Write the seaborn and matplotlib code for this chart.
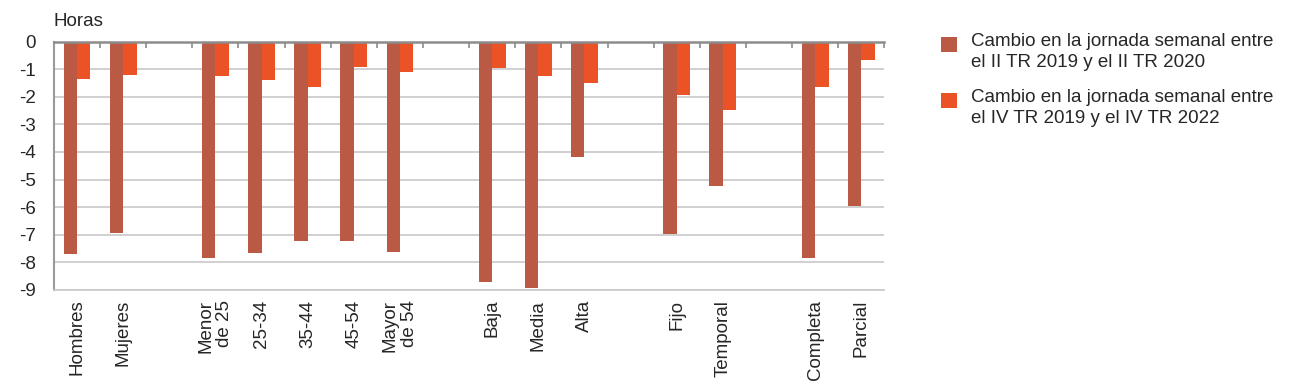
import numpy as np
import pandas as pd
import matplotlib
matplotlib.use("Agg")
import matplotlib.pyplot as plt
import matplotlib.ticker as ticker
from matplotlib.patches import Rectangle
import seaborn as sns

# Categories ("" entries are the empty gaps between groups)
categories = ["Hombres", "Mujeres", "",
              "Menor\nde 25", "25-34", "35-44", "45-54", "Mayor\nde 54", " ",
              "Baja", "Media", "Alta", "  ",
              "Fijo", "Temporal", "   ",
              "Completa", "Parcial"]
real_cats = ["Hombres", "Mujeres",
             "Menor\nde 25", "25-34", "35-44", "45-54", "Mayor\nde 54",
             "Baja", "Media", "Alta",
             "Fijo", "Temporal",
             "Completa", "Parcial"]

series_names = ["Cambio en la jornada semanal entre\nel II TR 2019 y el II TR 2020",
                "Cambio en la jornada semanal entre\nel IV TR 2019 y el IV TR 2022"]
change_2020 = [-7.7, -6.95, -7.85, -7.67, -7.21, -7.21, -7.61,
               -8.72, -8.93, -4.17, -6.99, -5.24, -7.86, -5.96]
change_2022 = [-1.36, -1.2, -1.25, -1.39, -1.66, -0.92, -1.1,
               -0.97, -1.25, -1.5, -1.93, -2.47, -1.63, -0.65]

yticks = [0, -1, -2, -3, -4, -5, -6, -7, -8, -9]

colors = ["#BA5944", "#EB5327"]

df = pd.DataFrame({
    "cat": real_cats * 2,
    "serie": [series_names[0]] * len(real_cats) + [series_names[1]] * len(real_cats),
    "valor": change_2020 + change_2022,
})

sns.set_style("white")
plt.rcParams["font.family"] = ["Liberation Sans", "DejaVu Sans"]
plt.rcParams["font.size"] = 13.5

fig = plt.figure(figsize=(12.91, 3.85), dpi=100)
ax = fig.add_axes([0.0418, 0.247, 0.6432, 0.645])

sns.barplot(data=df, x="cat", y="valor", hue="serie", order=categories,
            hue_order=series_names, palette=colors, width=0.58,
            saturation=1, linewidth=0, ax=ax, legend=False)

ax.set_ylim(-9, 0)
ax.set_xlim(-0.5, len(categories) - 0.5)
ax.set_yticks(yticks)
ax.set_yticklabels([str(v) for v in yticks])
ax.yaxis.grid(True, color="#C8C8C8", lw=1.2)
ax.set_axisbelow(True)
ax.set_xlabel("")
ax.set_ylabel("")

ax.spines["right"].set_visible(False)
ax.spines["top"].set_color("#8C8C8C")
ax.spines["top"].set_linewidth(1.8)
ax.spines["left"].set_color("#9A9A9A")
ax.spines["left"].set_linewidth(1.5)
ax.spines["bottom"].set_color("#C8C8C8")
ax.spines["bottom"].set_linewidth(1.2)

ax.tick_params(axis="y", length=0, pad=13, labelsize=13.5)
ax.tick_params(axis="x", which="major", length=0, pad=7)
ax.set_xticks(range(len(categories)))
ax.set_xticklabels(categories, rotation=90, ha="center", va="top",
                   multialignment="right", fontsize=13.5, linespacing=1.15)

# Tick marks between slots along the zero line (top spine)
ax.xaxis.set_minor_locator(ticker.FixedLocator(np.arange(0.5, len(categories), 1)))
ax.tick_params(axis="x", which="minor", top=True, bottom=False, direction="in",
               length=4, color="#8C8C8C", width=1.2)

fig.text(0.0418, 0.922, "Horas", fontsize=13.5, ha="left", va="bottom")

# Legend: square swatch aligned with the first line of each two-line label
for i, (name, col) in enumerate(zip(series_names, colors)):
    y_top = 37 + i * 56
    fig.patches.append(Rectangle((941 / 1291, 1 - (y_top + 15) / 385), 16 / 1291, 15 / 385,
                                 transform=fig.transFigure, facecolor=col,
                                 edgecolor="none"))
    fig.text(971 / 1291, 1 - (y_top - 4) / 385, name, fontsize=13.5,
             ha="left", va="top", linespacing=1.3)

fig.savefig("out.png", dpi=100)
